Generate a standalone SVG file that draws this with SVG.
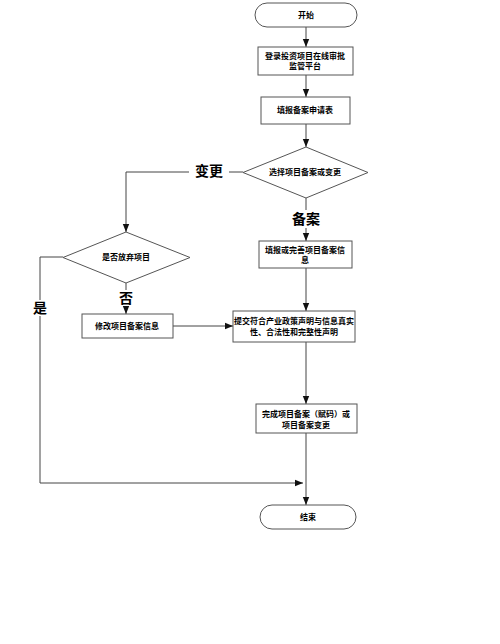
<svg xmlns="http://www.w3.org/2000/svg" width="500" height="644" viewBox="0 0 500 644">
<style>
.s{fill:#fff;stroke:#555;stroke-width:1}
.t{font-family:"Noto Sans CJK SC","Noto Sans",sans-serif;font-size:8px;font-weight:bold;fill:#000;text-anchor:middle}
.l{font-family:"Noto Sans CJK SC","Noto Sans",sans-serif;font-size:14px;font-weight:bold;fill:#000;text-anchor:middle}
.c{fill:none;stroke:#444;stroke-width:1}
</style>
<defs>
<marker id="a" viewBox="0 0 10 10" refX="10" refY="5" markerWidth="8" markerHeight="8" markerUnits="userSpaceOnUse" orient="auto">
<path d="M0,1 L10,5 L0,9 z" fill="#111"/>
</marker>
</defs>
<rect width="500" height="644" fill="#fff"/>
<g id="connectors">
<path class="c" d="M306,27 V47" marker-end="url(#a)"/>
<path class="c" d="M306,75 V97" marker-end="url(#a)"/>
<path class="c" d="M306,124 V147" marker-end="url(#a)"/>
<path class="c" d="M306,198 V241" marker-end="url(#a)"/>
<path class="c" d="M243,172 H126 V232" marker-end="url(#a)"/>
<path class="c" d="M126,283 V314" marker-end="url(#a)"/>
<path class="c" d="M306,268 V311" marker-end="url(#a)"/>
<path class="c" d="M173,326 H233" marker-end="url(#a)"/>
<path class="c" d="M306,342 V404" marker-end="url(#a)"/>
<path class="c" d="M306,433 V505" marker-end="url(#a)"/>
<path class="c" d="M63,257 H40 V483 H303" marker-end="url(#a)"/>
<rect x="189" y="162" width="40" height="18" fill="#fff"/>
<text class="l" x="209" y="176">变更</text>
<rect x="286" y="210" width="40" height="18" fill="#fff"/>
<text class="l" x="306" y="224">备案</text>
<rect x="116" y="290" width="20" height="16" fill="#fff"/>
<text class="l" x="126" y="303">否</text>
<rect x="30" y="300" width="20" height="16" fill="#fff"/>
<text class="l" x="40" y="313">是</text>
</g>
<g id="start">
<rect class="s" x="255" y="3" width="102" height="24" rx="12"/>
<text class="t" x="306" y="18">开始</text>
</g>
<g id="login">
<rect class="s" x="258" y="47" width="95" height="28"/>
<text class="t" x="305" y="59">登录投资项目在线审批</text>
<text class="t" x="305" y="69">监管平台</text>
</g>
<g id="fill-form">
<rect class="s" x="261" y="97" width="89" height="27"/>
<text class="t" x="305" y="113">填报备案申请表</text>
</g>
<g id="choose">
<polygon class="s" points="306,147 368,172.5 306,198 243,172.5"/>
<text class="t" x="305" y="175">选择项目备案或变更</text>
</g>
<g id="complete-info">
<rect class="s" x="259" y="241" width="93" height="27"/>
<text class="t" x="305" y="253">填报或完善项目备案信</text>
<text class="t" x="305" y="263">息</text>
</g>
<g id="abandon">
<polygon class="s" points="126,232 190,257.5 126,283 63,257.5"/>
<text class="t" x="126" y="260">是否放弃项目</text>
</g>
<g id="modify">
<rect class="s" x="82" y="314" width="91" height="24"/>
<text class="t" x="127" y="329">修改项目备案信息</text>
</g>
<g id="submit">
<rect class="s" x="233" y="311" width="122" height="31"/>
<text class="t" x="294" y="324">提交符合产业政策声明与信息真实</text>
<text class="t" x="294" y="335">性、合法性和完整性声明</text>
</g>
<g id="finish">
<rect class="s" x="256" y="404" width="101" height="29"/>
<text class="t" x="306" y="417">完成项目备案（赋码）或</text>
<text class="t" x="306" y="428">项目备案变更</text>
</g>
<g id="end">
<rect class="s" x="260" y="505" width="96" height="24" rx="12"/>
<text class="t" x="308" y="520">结束</text>
</g>
</svg>
